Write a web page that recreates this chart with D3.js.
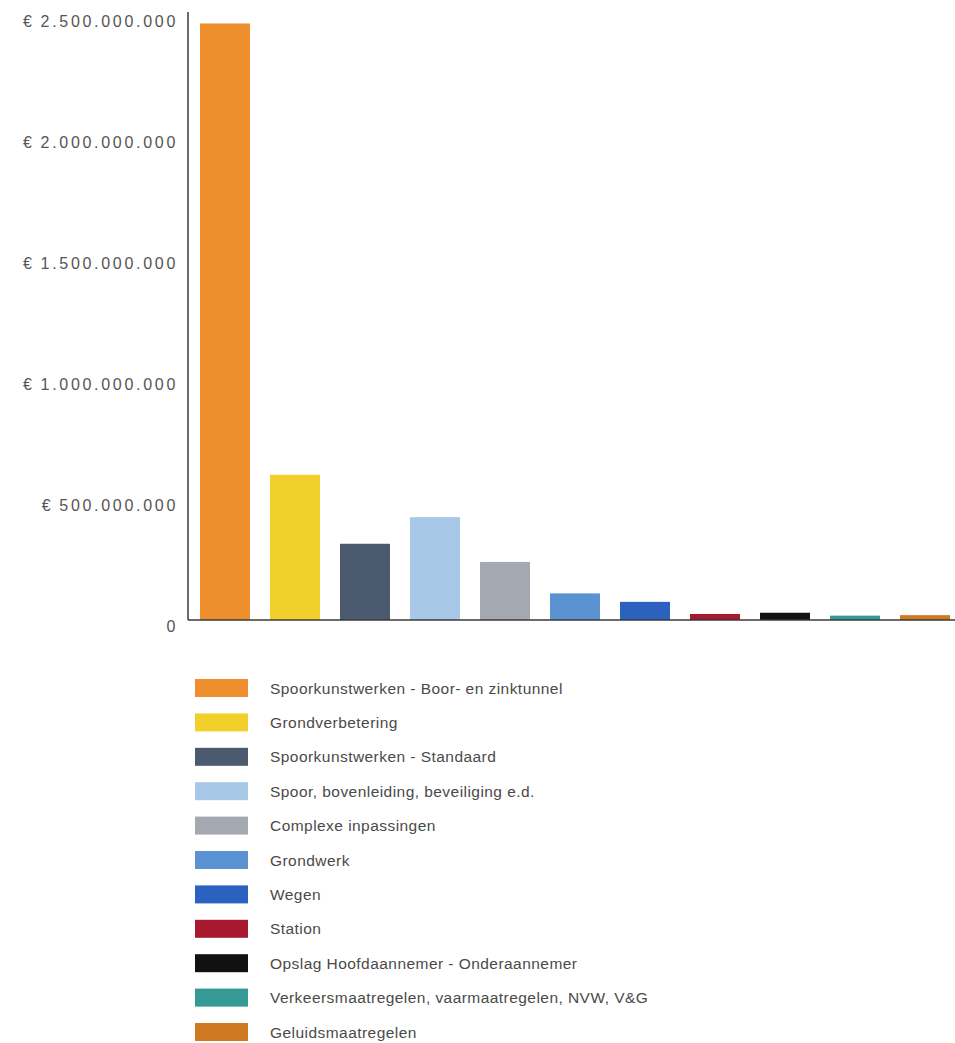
<!DOCTYPE html>
<html>
  <head>
    <meta charset="utf-8">
    <script src="https://unpkg.com/d3@7/dist/d3.min.js"></script>
    <style>
      body {
        margin: 0;
        background: #ffffff;
      }

      .axis path.domain {
        stroke: #3a3a3a;
        stroke-width: 1.5px;
      }

      .axis text {
        font-family: "Liberation Sans", Arial, sans-serif;
        font-size: 16px;
        letter-spacing: 2.7px;
        fill: #555555;
      }

      .legend-label {
        font-family: "Liberation Sans", Arial, sans-serif;
        font-size: 15.5px;
        letter-spacing: 0.45px;
        fill: #4a4a4a;
        dominant-baseline: central;
      }
    </style>
  </head>
  <body>
    <script>
      const categories = [
        'Spoorkunstwerken - Boor- en zinktunnel',
        'Grondverbetering',
        'Spoorkunstwerken - Standaard',
        'Spoor, bovenleiding, beveiliging e.d.',
        'Complexe inpassingen',
        'Grondwerk',
        'Wegen',
        'Station',
        'Opslag Hoofdaannemer - Onderaannemer',
        'Verkeersmaatregelen, vaarmaatregelen, NVW, V&G',
        'Geluidsmaatregelen'
      ];

      const costs = [
        2465000000, 600000000, 315000000, 425000000, 240000000,
        110000000, 75000000, 25000000, 30000000, 18000000, 20000000
      ];

      const colors = [
        '#ef8e2d', '#f1d02b', '#4b5a6f', '#a7c9e7', '#a4a9b1',
        '#5b93d2', '#2b62bf', '#a6192e', '#111111', '#359a96', '#cf7a22'
      ];

      const tickValues = [0, 500000000, 1000000000, 1500000000, 2000000000, 2500000000];

      const width = 955;
      const height = 1043;

      const nl = d3.formatLocale({
        decimal: ',',
        thousands: '.',
        grouping: [3],
        currency: ['€\u2009', '']
      });
      const fmt = v => v === 0 ? '0' : nl.format('$,')(v);

      const svg = d3.select('body')
        .append('svg')
        .attr('width', width)
        .attr('height', height);

      const axisX = 188;
      const baseY = 620;

      const x = d3.scaleBand()
        .domain(categories)
        .range([axisX + 2, 960])
        .paddingInner(0.286)
        .paddingOuter(0.143);

      const y = d3.scaleLinear()
        .domain([0, 2500000000])
        .range([baseY, 15]);

      svg.selectAll('rect.bar')
        .data(categories)
        .enter()
        .append('rect')
        .classed('bar', true)
        .attr('x', d => x(d))
        .attr('width', x.bandwidth())
        .attr('y', (d, i) => y(costs[i]))
        .attr('height', (d, i) => baseY - y(costs[i]))
        .attr('fill', (d, i) => colors[i]);

      const yAxis = d3.axisLeft(y)
        .tickValues(tickValues)
        .tickFormat(fmt)
        .tickSize(0)
        .tickSizeOuter(0)
        .tickPadding(10);

      const gy = svg.append('g')
        .attr('class', 'axis')
        .attr('transform', `translate(${axisX},0)`)
        .call(yAxis);
      gy.select('path.domain').attr('d', `M0,${baseY}V12`);
      gy.selectAll('text').attr('dy', '0.72em');

      svg.append('line')
        .attr('x1', axisX)
        .attr('x2', width)
        .attr('y1', baseY)
        .attr('y2', baseY)
        .attr('stroke', '#3a3a3a')
        .attr('stroke-width', 1.5);

      const legendTop = 688;
      const legendStep = 34.4;

      const legend = svg.append('g')
        .selectAll('g')
        .data(categories)
        .enter()
        .append('g')
        .attr('transform', (d, i) => `translate(195,${legendTop + i * legendStep})`);

      legend.append('rect')
        .attr('x', 0)
        .attr('y', -9)
        .attr('width', 53)
        .attr('height', 18)
        .attr('fill', (d, i) => colors[i]);

      legend.append('text')
        .classed('legend-label', true)
        .attr('x', 75)
        .attr('y', 0)
        .text(d => d);
    </script>
  </body>
</html>
